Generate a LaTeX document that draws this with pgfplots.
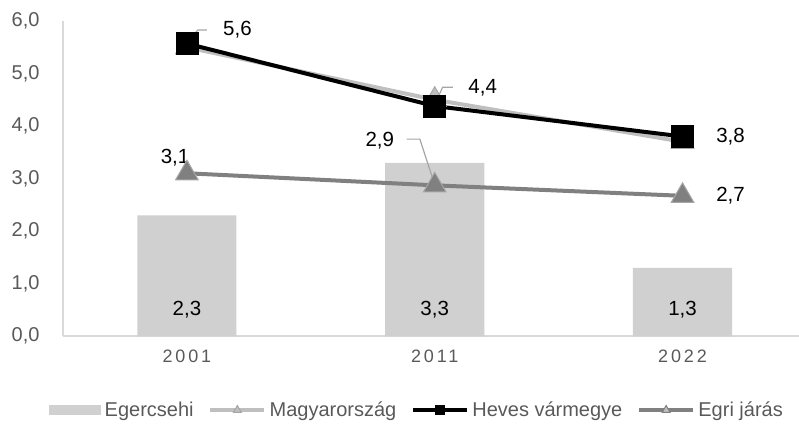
\documentclass[border=0pt]{standalone}
\usepackage{fontspec}
\setmainfont{Liberation Sans}
\usepackage{pgfplots}
\pgfplotsset{compat=1.18}

\definecolor{barc}{HTML}{D0D0D0}
\definecolor{magy}{HTML}{BFBFBF}
\definecolor{magyedge}{HTML}{A6A6A6}
\definecolor{egri}{HTML}{808080}
\definecolor{egriedge}{HTML}{A6A6A6}
\definecolor{tickc}{HTML}{595959}
\definecolor{axisc}{HTML}{D9D9D9}
\definecolor{leader}{HTML}{A6A6A6}

\pgfplotsset{
    linelegend/.style={legend image code/.code={\draw[##1, mark size=4.5pt, line width=3.5pt, mark repeat=2, mark phase=2]
        plot coordinates {(0pt,0pt) (27pt,0pt) (54pt,0pt)};}},
    barlegend/.style={legend image code/.code={\fill[barc] (0pt,-5pt) rectangle (52pt,5pt);}},
}
\tikzset{lbl/.style={font=\fontsize{20.5}{22}\selectfont}}

\begin{document}
\begin{tikzpicture}
\path[use as bounding box] (0,0) rectangle (799pt,424pt);
\begin{axis}[
    at={(63pt,88pt)}, anchor=south west,
    scale only axis, width=736pt, height=315pt,
    xmin=-0.5, xmax=2.47, ymin=0, ymax=6,
    axis x line*=bottom, axis y line*=left,
    axis line style={draw=axisc, line width=1.2pt},
    ytick={0,1,...,6},
    yticklabel={\pgfmathprintnumber[fixed,fixed zerofill,precision=1,use comma]{\tick}},
    /pgf/number format/assume math mode=true,
    xtick={0,1,2},
    xticklabels={2001,2011,2022},
    major tick length=0pt,
    yticklabel style={font=\fontsize{20}{22}\selectfont, text=tickc, xshift=-20pt},
    xticklabel style={font=\fontsize{18}{22}\selectfont\addfontfeature{LetterSpace=16}, text=tickc, yshift=-10pt},
    legend columns=4,
    legend style={at={(0.481,-0.235)}, anchor=center, draw=none, fill=none,
        font=\fontsize{20}{22}\selectfont, text=tickc, column sep=1.5pt,
        /tikz/every even column/.append style={column sep=13pt}},
    clip=false,
]
% Egercsehi
\addplot[ybar, bar width=0.4, fill=barc, draw=none, barlegend]
    coordinates {(0,2.3) (1,3.3) (2,1.3)};
\addlegendentry{Egercsehi}
% Magyarorszag
\addplot[color=magy, line width=4pt, mark=triangle*, mark size=13pt,
    mark options={fill=magy, draw=magyedge, line width=1pt}, linelegend]
    coordinates {(0,5.5) (1,4.5) (2,3.7)};
\addlegendentry{Magyarország}
% Egri jaras
\addplot[color=egri, line width=4pt, mark=triangle*, mark size=13pt,
    mark options={fill=egri, draw=egriedge, line width=1pt},
    forget plot]
    coordinates {(0,3.1) (1,2.87) (2,2.67)};
% Heves varmegye
\addplot[color=black, line width=4pt, mark=square*, mark size=11pt,
    mark options={fill=black, draw=black, line width=0.5pt}, linelegend]
    coordinates {(0,5.57) (1,4.38) (2,3.8)};
\addlegendentry{Heves vármegye}
% legend entry for Egri jaras
\addlegendimage{color=egri, line width=4pt, mark=triangle*,
    mark options={fill=magy, draw=egri, line width=1pt}, linelegend}
\addlegendentry{Egri járás}

% bar labels
\node[lbl] at (axis cs:0,0.5) {2,3};
\node[lbl] at (axis cs:1,0.5) {3,3};
\node[lbl] at (axis cs:2,0.5) {1,3};
% line labels
\draw[leader, line width=1.2pt] (axis cs:0.081,5.83) -- (axis cs:0.044,5.83) -- (axis cs:0,5.58);
\node[lbl, anchor=west] at (axis cs:0.132,5.83) {5,6};
\draw[leader, line width=1.2pt] (axis cs:1.073,4.74) -- (axis cs:1.032,4.74) -- (axis cs:1,4.40);
\node[lbl, anchor=west] at (axis cs:1.122,4.72) {4,4};
\node[lbl, anchor=west] at (axis cs:2.122,3.79) {3,8};
\node[lbl] at (axis cs:-0.048,3.39) {3,1};
\draw[leader, line width=1.2pt] (axis cs:0.887,3.75) -- (axis cs:0.94,3.75) -- (axis cs:1,2.88);
\node[lbl, anchor=east] at (axis cs:0.85,3.73) {2,9};
\node[lbl, anchor=west] at (axis cs:2.122,2.67) {2,7};
\end{axis}
\end{tikzpicture}
\end{document}
